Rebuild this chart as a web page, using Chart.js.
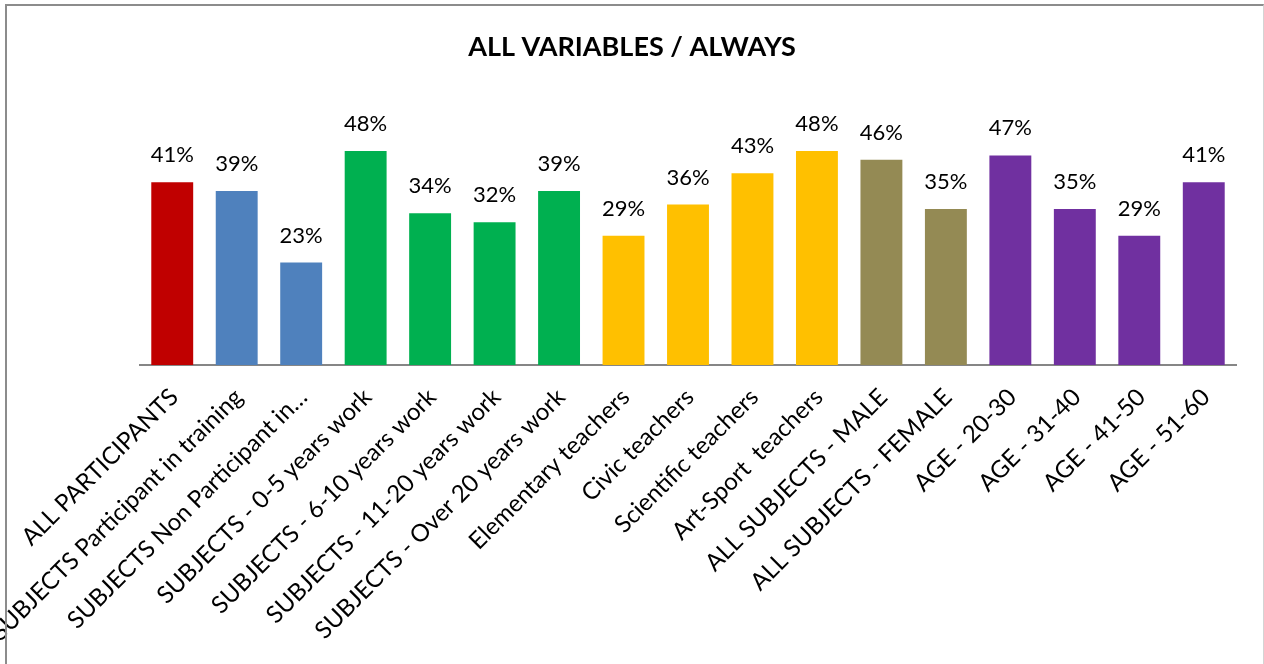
<!DOCTYPE html>
<html>
<head>
<meta charset="utf-8">
<script src="https://cdn.jsdelivr.net/npm/chart.js@4"></script>
<style>
  html, body { margin: 0; padding: 0; background: #fff; }
  #wrap { position: relative; width: 1264px; height: 664px; }
  #chart { position: absolute; left: 0; top: 0; }
  #frame {
    position: absolute; left: 5px; top: 4px; width: 1256px; height: 664px;
    border-top: 2px solid #8c8c8c; border-left: 2px solid #8c8c8c; border-right: 1px solid #d4d4d4;
    pointer-events: none;
  }
</style>
</head>
<body>
<div id="wrap">
  <canvas id="chart" width="1264" height="664"></canvas>
  <div id="frame"></div>
</div>
<script>
const categories = [
  'ALL PARTICIPANTS',
  'SUBJECTS Participant in training',
  'SUBJECTS Non Participant in…',
  'SUBJECTS - 0-5 years work',
  'SUBJECTS - 6-10 years work',
  'SUBJECTS - 11-20 years work',
  'SUBJECTS - Over 20 years work',
  'Elementary teachers',
  'Civic teachers',
  'Scientific teachers',
  'Art-Sport  teachers',
  'ALL SUBJECTS - MALE',
  'ALL SUBJECTS - FEMALE',
  'AGE - 20-30',
  'AGE - 31-40',
  'AGE - 41-50',
  'AGE - 51-60'
];
const always = [41, 39, 23, 48, 34, 32, 39, 29, 36, 43, 48, 46, 35, 47, 35, 29, 41];
const barColors = [
  '#C00000', '#4F81BD', '#4F81BD', '#00B050', '#00B050', '#00B050', '#00B050',
  '#FFC000', '#FFC000', '#FFC000', '#FFC000', '#948A54', '#948A54',
  '#7030A0', '#7030A0', '#7030A0', '#7030A0'
];

const FONT = 'Lato, "Open Sans", sans-serif';

// value labels above every bar
const valueLabels = {
  id: 'valueLabels',
  afterDatasetsDraw(chart) {
    const ctx = chart.ctx;
    const meta = chart.getDatasetMeta(0);
    ctx.save();
    ctx.font = '22px ' + FONT;
    ctx.fillStyle = '#000';
    ctx.textAlign = 'center';
    ctx.textBaseline = 'middle';
    meta.data.forEach((bar, i) => {
      ctx.fillText(always[i] + '%', bar.x, bar.y - 27);
    });
    ctx.restore();
  }
};

const chart = document.querySelector('#chart').getContext('2d');

new Chart(chart, {
  type: 'bar',
  data: {
    labels: categories,
    datasets: [{
      label: 'ALWAYS',
      data: always,
      backgroundColor: barColors,
      categoryPercentage: 1,
      barPercentage: 0.65
    }]
  },
  options: {
    responsive: false,
    animation: false,
    layout: { padding: 0 },
    plugins: {
      legend: { display: false },
      tooltip: { enabled: false },
      title: {
        display: true,
        text: 'ALL VARIABLES / ALWAYS',
        color: '#000',
        font: { family: FONT, size: 27, weight: 'bold' },
        padding: { top: 31, bottom: 78.6 }
      }
    },
    scales: {
      x: {
        grid: { display: false, drawTicks: false },
        border: { display: true, color: '#868686', width: 2 },
        ticks: {
          color: '#000',
          font: { family: FONT, size: 24 },
          minRotation: 45,
          maxRotation: 45,
          autoSkip: false,
          padding: 18,
          labelOffset: 2
        },
        afterFit(scale) {
          // keep the plot area where the original sits, labels may run off the left edge
          scale.height = 299;
          scale.paddingLeft = 140;
          scale.paddingRight = 28;
        }
      },
      y: {
        display: false,
        min: 0,
        max: 50
      }
    }
  },
  plugins: [valueLabels]
});
</script>
</body>
</html>
